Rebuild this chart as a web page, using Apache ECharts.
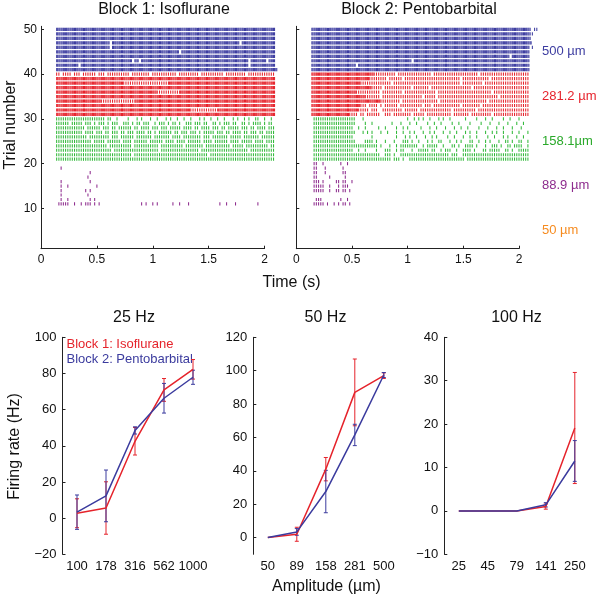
<!DOCTYPE html>
<html>
<head>
<meta charset="utf-8">
<script src="https://cdn.jsdelivr.net/npm/echarts@6/dist/echarts.min.js"></script>
<style>
html,body{margin:0;padding:0;background:#fff;}
#chart{width:600px;height:598px;}
</style>
</head>
<body>
<div id="chart"></div>
<script>
// ---------------- DATA ----------------
// Raster: stimulus cycles at 50 Hz; each row string = spikes per cycle ('.'=0, '1'=1, '2'=2)
// token "c*n" = character c repeated n times
const stimStart = 0.14;
const stimPeriod = 0.02;
const doubletGap = 0.009;
const groupTopTrial = [50, 40, 30, 20, 10];
const groupLabels = ['500 \u00b5m', '281.2 \u00b5m', '158.1\u00b5m', '88.9 \u00b5m', '50 \u00b5m'];

// Block 1: Isoflurane (rows listed from top trial downward)
const isoBlue = [
  "2*98", "2*98", "2*98",
  "2*24 . 2*57 . 2*15",
  "2*24 . 2*73",
  "2*55 . 2*42",
  "2*98",
  "2*34 . 2*2 . 2*48 . 2*7 . 2*3",
  "2*10 . 2*75 . 2*11",
  "2*99"
];
const isoRed = [
  "1*2 . 1*4 . 1*3 . 1*6 . 1*3 . 1*10 . 1*8 . 1*11 . 1*9 . 1*10 . 1*9 . 1*12",
  "2*98",
  "2*30 1*20 2*48",
  "2*98",
  "2*45 1*10 2*43",
  "2*98",
  "2*20 1*15 2*63",
  "2*98",
  "2*60 1*12 2*26",
  "2*98"
];
const isoGreen = [
  "1111111111 1111111111 11.11..1.. ..1...1.1. ..1..1...1 .1..1..1.. 1...1.1..1 ..1..1...1 .1..1.1..1 1..1..1.",
  "111111.111 11.111.1.1 11.1.111.. 111.1.11.1 11..1.111. 1.11.1..11 1.111.11.. 11.1.111.1 1..11.1.11 11.1.11.",
  "1111111111 111.111111 .111.11.11 1111.11.11 11.111.111 .11111.111 1.11.1111. 111.11.111 11.111.11. 1111.111",
  "1111111111 11.1111.11 1.11.111.1 1.111.1111 .11.1.1111 11.11.111. 111.1.1111 1.111.11.1 111.11.111 .11.1111",
  "1111111111 1111.11111 1111.111.1 11111.1111 111.111111 1.1111.111 11111.111. 1111111.11 111.111111 1.111111",
  "1111111111 111111.111 11.111111. 1111.11111 1.111111.1 111.1111.1 11111.1111 .111111.11 11.11111.1 111.1111",
  "1111111111 1111111111 111.111111 1111.11111 111111.111 1111111.11 111111.111 11111111.1 1111.11111 11111.11",
  "1111111111 1111111111 11111.1111 1111111111 111111.111 1111111111 1111.11111 1111111111 111111.111 11111111",
  "1111111111 1111111111 1111111111 1111.11111 1111111111 1111111111 11111111.1 1111111111 1111111111 11111111",
  "1*98"
];
const isoPurple = [
  "",
  "..1",
  ".*15 1",
  ".*14 1",
  "..1 .*12 1",
  "..1 ..1 .*12 1",
  "..1 .*10 1 . 1",
  "..1 .*11 1",
  "..1 ..1 .*9 1 . 1",
  ".11111..1. .1.111.1.1 .*18 1 . 1 .*2 1 . 1 .*6 1 .*2 1 .*3 1 .*13 1 .*2 1 .*3 1 .*9 1"
];
const isoOrange = [];

// Block 2: Pentobarbital
const pentoBlue = [
  "2*98 1 . 1 1",
  "2*98 1 1",
  "2*98 1",
  "2*99",
  "2*98 . 1",
  "2*98",
  "2*89 . 2*8",
  "2*45 . 2*52",
  "2*20 . 2*77",
  "2*98"
];
const pentoRed = [
  "2*28 1*10 . 1*15 . 1*20 . 1*22",
  "2*26 1*8 . 1*6 . 1*25 . 1*12 . 1*17",
  "2*22 1*14 . 1*30 . 1*9 . 1*20",
  "2*27 1*5 . 1*12 . 1*7 . 1*18 . 1*25",
  "2*20 1*11 . 1*9 . 1*14 . 1*24 . 1*16",
  "2*24 1*7 . 1*18 . 1*5 . 1*27 . 1*13",
  "2*31 1*9 . 1*16 . 1*21 . 1*18",
  "2*22 1*3 . 1*4 . 1 . 1*6 . 1*10 . 1*3 . 1*12 . 1*8 . 1*21",
  "2*21 1*5 . 1*3 .. 1*9 . 1*6 . 1*14 . 1*10 . 1*23",
  "2*17 1*4 . 1*2 . 1*6 .. 1*3 . 1*8 . 1*5 . 1*11 . 1*7 . 1*9 . 1*16"
];
const pentoGreen = [
  ". 1*19 .*3 1 .*19 1 .*2 1 . 1 . 1 .*2 1 .*3 1 . 1 .*2 1 .*6 1 .*4 1 .*3 1 .*2 1 .*4 1 .*2 1 .*3 1",
  ". 1*19 .*4 1 .*2 1 .*8 1 .*3 1 .*3 1 .*2 1 .*4 1 .*2 1 .*2 1 .*4 1 .*2 1 .*4 1 .*4 1 .*3 1 .*3 1 .*3 1 .*3 1 .*2 1",
  ". 1*18 .*2 1 .*2 1 .*5 1 .*2 1 .*4 1 .*2 1 . 1 .*5 1 .*3 1 .*2 1 .*3 1 .*3 1 .*2 1 .*2 1 .*4 1 .*3 1 .*3 1 .*2 1 .*3 1 .*3 1",
  ". 1*19 .*3 1 . 1 . 1 .*3 1 .*2 1 .*3 1 .*2 1 .*2 1 . 1 .*3 1 .*2 1 . 1 .*3 1 .*2 1 .*2 1 .*3 1 . 1 .*2 1 .*3 1 .*2 1 . 1 .*2 1 .*3 1 .*2 1 .*3 1",
  ". 1*18 .*8 1 .*10 1 .*3 1 . 1 .*2 1 .*3 1 .*2 1 . 1 .*4 1 .*2 1 .*3 1 .*2 1 .*2 1 .*4 1 .*2 1 .*3 1 . 1 .*3 1 .*2 1",
  ". 1*19 .*4 1*4 . 1 .*3 1 .*3 1 .*3 1 1 1 . 1 .*2 1 .*3 1 . 1 .*2 1 1 .*3 1 .*2 1 . 1 .*3 1 1 .*2 1 .*2 1 . 1 .*3 1 .*2 1 1 . 1 .*2 1 1 .*2 1",
  ". 1*29 . 1 .*3 1 .*2 1 . 1*8 .*2 1 . 1*5 .*2 1 .*3 1 1 . 1 .*2 1*4 . 1 .*3 1 .*2 1*3 . 1 .*2 1 1 . 1*4 .*2 1",
  ". 1*18 .*2 1 .*2 1 .*4 1 .*3 1 1 1 .*2 1 . 1 1 .*3 1 .*2 1*5 . 1 1 .*2 1 . 1*3 .*2 1 .*2 1*4 . 1 .*3 1 1 . 1*5 .*2 1 1 . 1 .*2 1*5",
  ". 1*30 .*2 1*3 . 1 .*2 1*22 . 1*3 .*2 1*30",
  ". 1*35 . 1*3 . 1 .*2 1*25 . 1*28"
];
const pentoPurple = [
  ".11..1 .*7 1 ..1",
  ".11...1 .*7 1",
  ".11...1 .*7 11",
  ".11.....1 .*6 1",
  ".111.1 .*5 11.11..1",
  ".1111 1..1 ...1.111",
  ".1111 1..1 ..11.11.1",
  "",
  "..111 .*8 1 ..1",
  ".11111.1..1.1.11.1"
];
const pentoOrange = [];

// Firing rate summary (mean +/- error)
const amp25 = ['100', '178', '316', '562', '1000'];
const rate25Iso = [2.7, 5.6, 42.5, 70.9, 82.3];
const err25Iso = [8, 14.5, 7.6, 6.3, 5.4];
const rate25Pento = [3.3, 12.3, 48.5, 66.3, 77.9];
const err25Pento = [9.5, 14.3, 2, 8.2, 3.9];

const amp50 = ['50', '89', '158', '281', '500'];
const rate50Iso = [0, 2, 41, 87, 97];
const err50Iso = [0, 4.2, 7, 20, 1.7];
const rate50Pento = [0, 3.4, 27.6, 61.5, 97.4];
const err50Pento = [0, 2, 12.7, 6.4, 1.5];

const amp100 = ['25', '45', '79', '141', '250'];
const rate100Iso = [0, 0, 0, 1.0, 19.1];
const err100Iso = [0, 0, 0, 0.6, 12.8];
const rate100Pento = [0, 0, 0, 1.4, 11.5];
const err100Pento = [0, 0, 0, 0.5, 4.7];

// ---------------- STYLE ----------------
const FONT = '"Liberation Sans", Arial, Helvetica, sans-serif';
const groupColors = ['#3c3ca0', '#e6232c', '#33b93b', '#8e2c8e', '#f68b1f'];
const labelColors = ['#3c3ca0', '#e6232c', '#2aa92a', '#8e2c8e', '#f68b1f'];
const RED = '#e5232b', BLUE = '#3b3b9e';
const AXIS = '#222';

function expand(code) {
  let s = '';
  code.trim().split(/\s+/).forEach(tok => {
    if (!tok) return;
    const m = tok.match(/^(.)\*(\d+)$/);
    if (m) s += m[1].repeat(+m[2]); else s += tok;
  });
  return s;
}

function rasterPoints(rows, topTrial) {
  const pts = [];
  rows.forEach((code, i) => {
    const trial = topTrial - i;
    const s = expand(code);
    for (let k = 0; k < s.length; k++) {
      const n = s[k] === '2' ? 2 : (s[k] === '1' ? 1 : 0);
      for (let j = 0; j < n; j++) pts.push([stimStart + k * stimPeriod + j * doubletGap, trial]);
    }
  });
  return pts;
}

const blocks = [
  [isoBlue, isoRed, isoGreen, isoPurple, isoOrange],
  [pentoBlue, pentoRed, pentoGreen, pentoPurple, pentoOrange]
];

const series = [];
blocks.forEach((groups, p) => {
  groups.forEach((rows, g) => {
    series.push({
      type: 'scatter', xAxisIndex: p, yAxisIndex: p,
      data: rasterPoints(rows, groupTopTrial[g]),
      symbol: 'rect', symbolSize: [1.05, 3.2],
      itemStyle: { color: groupColors[g], opacity: 1 },
      clip: false, silent: true, progressive: 0, large: false,
      emphasis: { disabled: true }
    });
  });
});

function errSeries(idx, rates, errs, color) {
  return {
    type: 'custom', xAxisIndex: idx, yAxisIndex: idx, silent: true,
    itemStyle: { color: color },
    data: rates.map((v, i) => [i, v, errs[i]]),
    encode: { x: 0, y: 1 },
    renderItem: function (params, api) {
      const i = api.value(0), v = api.value(1), e = api.value(2);
      if (!e) return null;
      const t = api.coord([i, v + e]);
      const b = api.coord([i, v - e]);
      const w = 2;
      const st = { stroke: color, lineWidth: 1 };
      return {
        type: 'group', children: [
          { type: 'line', shape: { x1: t[0], y1: t[1], x2: b[0], y2: b[1] }, style: st },
          { type: 'line', shape: { x1: t[0] - w, y1: t[1], x2: t[0] + w, y2: t[1] }, style: st },
          { type: 'line', shape: { x1: b[0] - w, y1: b[1], x2: b[0] + w, y2: b[1] }, style: st }
        ]
      };
    }
  };
}
function lineSeries(idx, rates, color) {
  return {
    type: 'line', xAxisIndex: idx, yAxisIndex: idx, data: rates, silent: true,
    showSymbol: false, lineStyle: { color: color, width: 1.5 }, itemStyle: { color: color },
    animation: false
  };
}
[[2, rate25Iso, err25Iso, rate25Pento, err25Pento],
 [3, rate50Iso, err50Iso, rate50Pento, err50Pento],
 [4, rate100Iso, err100Iso, rate100Pento, err100Pento]].forEach(a => {
  series.push(lineSeries(a[0], a[1], RED));
  series.push(errSeries(a[0], a[1], a[2], RED));
  series.push(lineSeries(a[0], a[3], BLUE));
  series.push(errSeries(a[0], a[3], a[4], BLUE));
});

const minus = v => String(v).replace('-', '\u2212');

function rasterX(idx) {
  return {
    type: 'value', gridIndex: idx, min: 0, max: 2, interval: 0.5,
    axisLine: { show: true, lineStyle: { color: AXIS, width: 1 } },
    axisTick: { show: true, inside: true, length: 3, lineStyle: { color: AXIS } },
    axisLabel: { fontSize: 12, color: '#111', margin: 5, fontFamily: FONT },
    splitLine: { show: false }
  };
}
function rasterY(idx, labels) {
  return {
    type: 'value', gridIndex: idx, min: 1, max: 50.7,
    axisLine: { show: true, lineStyle: { color: AXIS, width: 1 } },
    axisTick: { show: true, inside: true, length: 3, customValues: [10, 20, 30, 40, 50], lineStyle: { color: AXIS } },
    axisLabel: { show: labels, fontSize: 12, color: '#111', margin: 4, fontFamily: FONT, customValues: [10, 20, 30, 40, 50] },
    splitLine: { show: false }
  };
}
function catX(idx, cats) {
  return {
    type: 'category', gridIndex: idx, data: cats, boundaryGap: true,
    axisLine: { show: false }, axisTick: { show: false },
    axisLabel: { fontSize: 13, color: '#111', margin: 6, fontFamily: FONT, interval: 0 },
    splitLine: { show: false }
  };
}
function rateY(idx, min, max, vals) {
  return {
    type: 'value', gridIndex: idx, min: min, max: max,
    axisLine: { show: true, lineStyle: { color: AXIS, width: 1 } },
    axisTick: { show: true, inside: true, length: 3, customValues: vals, lineStyle: { color: AXIS } },
    axisLabel: { fontSize: 13, color: '#111', margin: 6, fontFamily: FONT, customValues: vals, formatter: minus },
    splitLine: { show: false }
  };
}

function txt(x, y, text, size, color, rot) {
  return {
    type: 'text', x: x, y: y, rotation: rot || 0, silent: true,
    style: { text: text, font: size + 'px ' + FONT, fill: color || '#111',
      align: 'center', verticalAlign: 'middle', textAlign: 'center', textVerticalAlign: 'middle' }
  };
}
function txtL(x, y, text, size, color) {
  return {
    type: 'text', x: x, y: y, silent: true,
    style: { text: text, font: size + 'px ' + FONT, fill: color,
      align: 'left', verticalAlign: 'middle', textAlign: 'left', textVerticalAlign: 'middle' }
  };
}

const graphics = [
  txt(164, 10, 'Block 1: Isoflurane', 16),
  txt(419, 10, 'Block 2: Pentobarbital', 16),
  txt(11, 125, 'Trial number', 16, '#111', Math.PI / 2),
  txt(291.5, 283, 'Time (s)', 16),
  txt(134, 318, '25 Hz', 16),
  txt(325.5, 318, '50 Hz', 16),
  txt(516.5, 318, '100 Hz', 16),
  txt(15, 446.5, 'Firing rate (Hz)', 16, '#111', Math.PI / 2),
  txt(326.5, 586.5, 'Amplitude (\u00b5m)', 16),
  txtL(66.5, 344.5, 'Block 1: Isoflurane', 13, RED),
  txtL(66.5, 359, 'Block 2: Pentobarbital', 13, BLUE)
];
const labelY = [51.7, 96.7, 141.7, 185, 230];
groupLabels.forEach((t, i) => graphics.push(txtL(542, labelY[i], t, 13, labelColors[i])));

const option = {
  animation: false,
  backgroundColor: '#fff',
  textStyle: { fontFamily: FONT },
  grid: [
    { left: 41, top: 26.3, width: 223.6, height: 222.4 },
    { left: 296.3, top: 26.3, width: 222.7, height: 222.4 },
    { left: 62.5, top: 337.3, width: 145, height: 217 },
    { left: 253.3, top: 337.3, width: 145, height: 217 },
    { left: 444.3, top: 337.3, width: 145, height: 217 }
  ],
  xAxis: [rasterX(0), rasterX(1), catX(2, amp25), catX(3, amp50), catX(4, amp100)],
  yAxis: [
    rasterY(0, true), rasterY(1, false),
    rateY(2, -20, 100, [-20, 0, 20, 40, 60, 80, 100]),
    rateY(3, -10, 120, [0, 20, 40, 60, 80, 100, 120]),
    rateY(4, -10, 40, [-10, 0, 10, 20, 30, 40])
  ],
  graphic: graphics,
  series: series
};

const chart = echarts.init(document.getElementById('chart'), null, { renderer: 'canvas' });
chart.setOption(option);
</script>
</body>
</html>
